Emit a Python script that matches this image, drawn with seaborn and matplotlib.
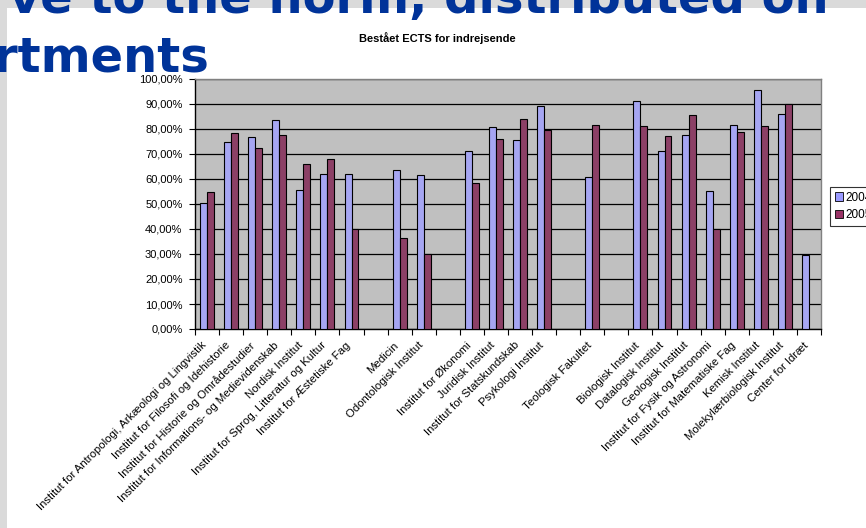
import numpy as np
import pandas as pd
import matplotlib
matplotlib.use("Agg")
import matplotlib.pyplot as plt
import matplotlib.transforms as mtransforms
import seaborn as sns
from matplotlib.patches import Rectangle

departments = [
    "Institut for Antropologi, Arkæologi og Lingvistik",
    "Institut for Filosofi og Idehistorie",
    "Institut for Historie og Områdestudier",
    "Institut for Informations- og Medievidenskab",
    "Nordisk Institut",
    "Institut for Sprog, Litteratur og Kultur",
    "Institut for Æstetiske Fag",
    "",
    "Medicin",
    "Odontologisk Institut",
    "",
    "Institut for Økonomi",
    "Juridisk Institut",
    "Institut for Statskundskab",
    "Psykologi Institut",
    "",
    "Teologisk Fakultet",
    "",
    "Biologisk Institut",
    "Datalogisk Institut",
    "Geologisk Institut",
    "Institut for Fysik og Astronomi",
    "Institut for Matematiske Fag",
    "Kemisk Institut",
    "Molekylærbiologisk Institut",
    "Center for Idræt",
]
nan = np.nan
values_2004 = [50.3, 74.9, 76.9, 83.7, 55.6, 62.1, 61.9, nan, 63.7, 61.5, nan,
               71.2, 80.8, 75.5, 89.3, nan, 60.9, nan, 91.1, 71.2, 77.7, 55.2,
               81.5, 95.5, 86.1, 29.6]
values_2005 = [54.7, 78.5, 72.5, 77.7, 65.9, 68.1, 39.9, nan, 36.3, 30.1, nan,
               58.4, 76.1, 84.1, 79.7, nan, 81.5, nan, 81.1, 77.2, 85.7, 40.1,
               78.9, 81.1, 90.0, nan]
years = ["2004", "2005"]
yticks = [0, 10, 20, 30, 40, 50, 60, 70, 80, 90, 100]
title = "Bestået ECTS for indrejsende"
slide_line1 = "ve to the norm, distributed on"
slide_line2 = "rtments"

slots = [f"slot{i}" for i in range(len(departments))]
df = pd.DataFrame({
    "slot": slots * 2,
    "value": values_2004 + values_2005,
    "year": [years[0]] * len(slots) + [years[1]] * len(slots),
})

W, H = 866, 528
fig = plt.figure(figsize=(W / 100, H / 100), dpi=100)
fig.patch.set_facecolor("white")

# slide decorations
fig.add_artist(Rectangle((0, 1 - 8 / H), 1, 8 / H, transform=fig.transFigure,
                         facecolor="#dadada", edgecolor="none", zorder=0))
fig.add_artist(Rectangle((0, 0), 7 / W, 1, transform=fig.transFigure,
                         facecolor="#dadada", edgecolor="none", zorder=0))

ax = fig.add_axes([195 / W, 1 - 329 / H, (821 - 195) / W, (329 - 79) / H])
ax.set_facecolor("#c0c0c0")

sns.barplot(data=df, x="slot", y="value", hue="year", order=slots,
            hue_order=years, palette={"2004": "#9999ff", "2005": "#993366"},
            width=0.58, edgecolor="black", linewidth=0.8, errorbar=None,
            ax=ax, zorder=3)

ax.set_ylim(0, 100)
ax.set_xlim(-0.5, len(slots) - 0.5)
ax.set_yticks(yticks)
ax.set_yticklabels([f"{v},00%" for v in yticks], fontsize=8,
                   family="Liberation Sans")
ax.yaxis.grid(True, color="black", linewidth=0.9, zorder=1)
ax.set_axisbelow(True)
ax.tick_params(axis="y", direction="out", length=4, width=0.8, pad=5,
               colors="black")

ax.set_xticks(range(len(slots)))
ax.set_xticklabels(departments, rotation=45, ha="right",
                   rotation_mode="anchor", fontsize=8.2,
                   family="Liberation Sans")
ax.tick_params(axis="x", which="major", length=0, pad=8)
offset = mtransforms.ScaledTranslation(-6 / 100, 0, fig.dpi_scale_trans)
for lbl in ax.get_xticklabels():
    lbl.set_transform(lbl.get_transform() + offset)
ax.set_xticks(np.arange(-0.5, len(slots), 1.0), minor=True)
ax.tick_params(axis="x", which="minor", direction="out", length=4, width=0.8)
ax.set_xlabel("")
ax.set_ylabel("")

for side in ["top", "right"]:
    ax.spines[side].set_color("#808080")
    ax.spines[side].set_linewidth(1.0)
for side in ["left", "bottom"]:
    ax.spines[side].set_color("black")
    ax.spines[side].set_linewidth(1.0)

ax.get_legend().remove()
handles = [Rectangle((0, 0), 1, 1, facecolor=c, edgecolor="black", linewidth=0.6)
           for c in ["#9999ff", "#993366"]]
leg = fig.legend(handles, years, loc="upper left",
                 bbox_to_anchor=(830 / W, 1 - 187 / H),
                 prop={"family": "Liberation Sans", "size": 8.5},
                 frameon=True, fancybox=False, edgecolor="black",
                 handlelength=0.7, handleheight=0.7, handletextpad=0.2,
                 borderpad=0.4, labelspacing=0.45, borderaxespad=0)
leg.get_frame().set_linewidth(0.8)

fig.text(437 / W, 1 - 38 / H, title, ha="center", va="center",
         fontsize=8, fontweight="bold", family="Liberation Sans")

fig.text(829 / W, 1 - 13 / H, slide_line1, ha="right", va="baseline",
         fontsize=34.6, fontweight="bold", color="#003399", family="DejaVu Sans",
         zorder=5)
fig.text(-6 / W, 1 - 72 / H, slide_line2, ha="left", va="baseline",
         fontsize=34.6, fontweight="bold", color="#003399", family="DejaVu Sans",
         zorder=5)

fig.savefig("out.png", dpi=100)
